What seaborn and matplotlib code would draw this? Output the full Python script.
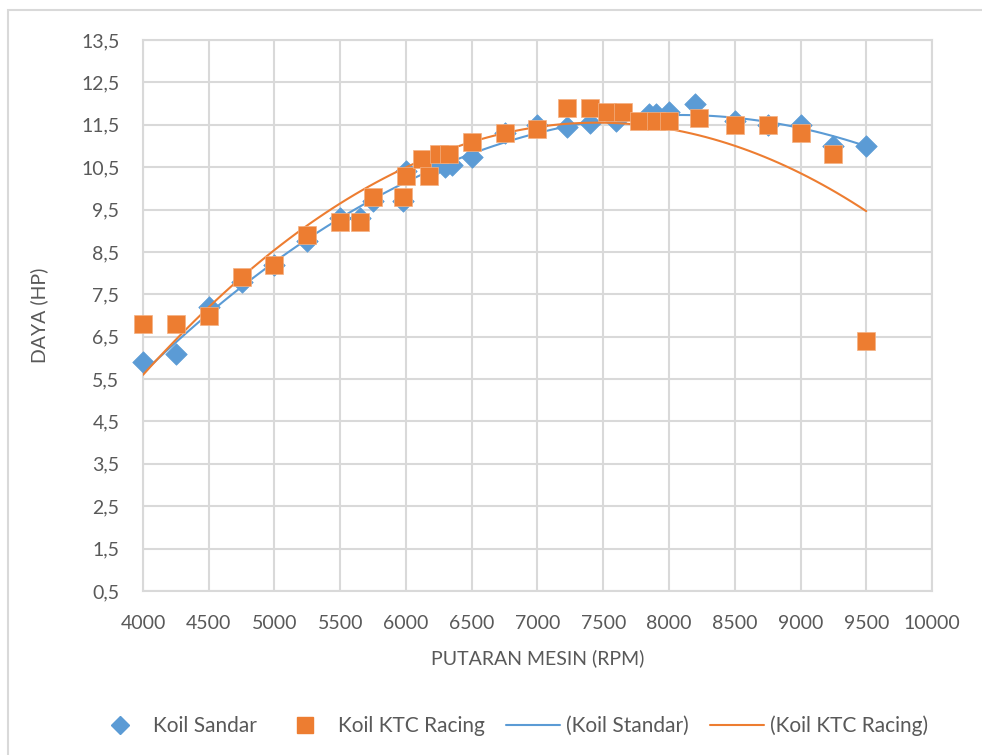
import matplotlib
matplotlib.use("Agg")
import matplotlib.pyplot as plt
import seaborn as sns
import numpy as np
import pandas as pd
from matplotlib.patches import Rectangle

# data
rpm_standar = [4000, 4250, 4500, 4750, 5000, 5250, 5500, 5650, 5750, 5975, 6000,
               6225, 6300, 6350, 6500, 6750, 7000, 7225, 7400, 7600, 7850, 7900,
               8000, 8200, 8500, 8750, 9000, 9250, 9500]
hp_standar = [5.9, 6.1, 7.2, 7.8, 8.2, 8.75, 9.3, 9.3, 9.7, 9.7, 10.4,
              10.55, 10.5, 10.55, 10.75, 11.3, 11.5, 11.45, 11.55, 11.6, 11.75, 11.75,
              11.8, 12.0, 11.6, 11.5, 11.5, 11.0, 11.0]

rpm_ktc = [4000, 4250, 4500, 4750, 5000, 5250, 5500, 5650, 5750, 5975, 6000,
           6125, 6175, 6250, 6325, 6500, 6750, 7000, 7225, 7400, 7525, 7650,
           7775, 7900, 8000, 8225, 8500, 8750, 9000, 9250, 9500]
hp_ktc = [6.8, 6.8, 7.0, 7.9, 8.2, 8.9, 9.2, 9.2, 9.8, 9.8, 10.3,
          10.7, 10.3, 10.8, 10.8, 11.1, 11.3, 11.4, 11.9, 11.9, 11.8, 11.8,
          11.6, 11.6, 11.6, 11.65, 11.5, 11.5, 11.3, 10.8, 6.4]

x_ticks = list(range(4000, 10001, 500))
y_ticks = [0.5 + i for i in range(14)]

blue = "#5B9BD5"
orange = "#ED7D31"
grey = "#595959"

df_std = pd.DataFrame({"rpm": rpm_standar, "hp": hp_standar})
df_ktc = pd.DataFrame({"rpm": rpm_ktc, "hp": hp_ktc})

sns.set_style("white")
plt.rcParams["font.family"] = ["Lato", "DejaVu Sans"]

fig = plt.figure(figsize=(9.82, 7.55), dpi=100)
ax = fig.add_axes([0.1456, 0.2172, 0.8035, 0.7298])

# trendlines (2nd order polynomial)
sns.regplot(data=df_std, x="rpm", y="hp", order=2, ci=None, scatter=False,
            truncate=True, color=blue, line_kws={"lw": 1.5, "zorder": 4}, ax=ax)
sns.regplot(data=df_ktc, x="rpm", y="hp", order=2, ci=None, scatter=False,
            truncate=True, color=orange, line_kws={"lw": 1.5, "zorder": 4}, ax=ax)

sns.scatterplot(data=df_std, x="rpm", y="hp", marker="D", s=120, color=blue,
                edgecolor=blue, linewidth=0.5, ax=ax, zorder=3, clip_on=False)
sns.scatterplot(data=df_ktc, x="rpm", y="hp", marker="s", s=150, color=orange,
                edgecolor="#F4B183", linewidth=0.5, ax=ax, zorder=5, clip_on=False)

ax.set_xlim(4000, 10000)
ax.set_ylim(0.5, 13.5)
ax.set_xticks(x_ticks)
ax.set_yticks(y_ticks)
ax.set_xticklabels([str(t) for t in x_ticks])
ax.set_yticklabels([f"{t:.1f}".replace(".", ",") for t in y_ticks])
ax.tick_params(axis="both", length=0, labelsize=14, labelcolor=grey, pad=17)
ax.grid(True, color="#D9D9D9", lw=1.5)
for s in ax.spines.values():
    s.set_color("#D9D9D9")
    s.set_linewidth(1.5)

ax.set_xlabel("PUTARAN MESIN (RPM)", fontsize=14, color=grey, labelpad=13)
ax.set_ylabel("DAYA (HP)", fontsize=14, color=grey, labelpad=24)

# legend
h1 = plt.Line2D([], [], ls="", marker="D", ms=9, color=blue)
h2 = plt.Line2D([], [], ls="", marker="s", ms=11, color=orange)
h3 = plt.Line2D([], [], color=blue, lw=1.5)
h4 = plt.Line2D([], [], color=orange, lw=1.5)
fig.legend([h1, h2, h3, h4],
           ["Koil Sandar", "Koil KTC Racing", "(Koil Standar)", "(Koil KTC Racing)"],
           loc="center", bbox_to_anchor=(0.52, 0.039), ncol=4, frameon=False,
           fontsize=15, labelcolor=grey, handlelength=2.6, columnspacing=1.0,
           handletextpad=0.3)

# chart border
fig.patches.append(Rectangle((0.008, -0.05), 1.5, 1.037, transform=fig.transFigure,
                             fill=False, edgecolor="#D9D9D9", lw=1.5))

fig.savefig("out.png", dpi=100)
